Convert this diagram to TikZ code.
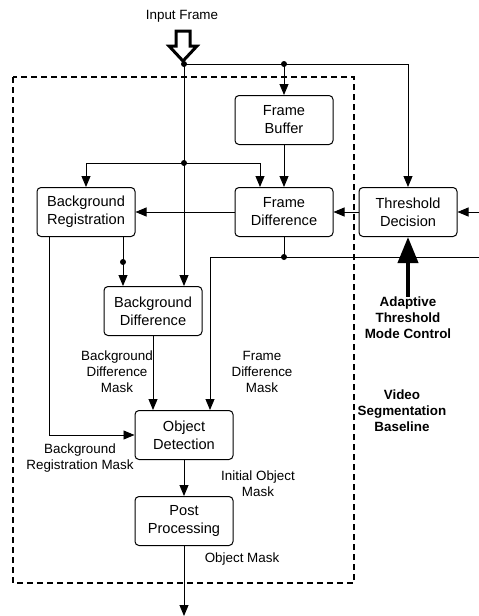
\documentclass[tikz,border=0pt]{standalone}
\usepackage{fontspec}
\setmainfont{Liberation Sans}
\usetikzlibrary{arrows.meta}
\begin{document}
\begin{tikzpicture}[x=1pt,y=-1pt,
 blk/.style={draw, rounded corners=4pt, minimum width=98pt, minimum height=49pt, align=center, font=\fontsize{14.6}{18}\selectfont, inner sep=0pt, line width=1pt},
 lbl/.style={align=center, font=\fontsize{13.4}{16}\selectfont, inner sep=0pt},
 blbl/.style={align=center, font=\fontsize{13.4}{16}\selectfont\bfseries, inner sep=0pt},
 conn/.style={line width=0.9pt, -{Triangle[length=11pt,width=9pt]}},
 wire/.style={line width=0.9pt},
 dot/.style={circle, fill, inner sep=0pt, minimum size=6pt}
]
\useasboundingbox (0,0) rectangle (479,616);

% dashed enclosure
\draw[line width=2pt, dash pattern=on 6pt off 4pt] (13,77) rectangle (354,583);

% blocks
\node[blk] (fb) at (284,120) {Frame\\Buffer};
\node[blk] (br) at (86,212) {Background\\Registration};
\node[blk] (fd) at (284,212) {Frame\\Difference};
\node[blk] (td) at (408,212) {Threshold\\Decision};
\node[blk] (bd) at (153,311) {Background\\Difference};
\node[blk] (od) at (184,435) {Object\\Detection};
\node[blk] (pp) at (184,521) {Post\\Processing};

% labels
\node[lbl] (if) at (182,16) {Input Frame};
\node[lbl] (bdm) at (117,372) {Background\\Difference\\Mask};
\node[lbl] (fdm) at (262,372) {Frame\\Difference\\Mask};
\node[blbl] (atmc) at (408,318) {Adaptive\\Threshold\\Mode Control};
\node[blbl] (vsb) at (402,411) {Video\\Segmentation\\Baseline};
\node[lbl] (brm) at (80,458) {Background\\Registration Mask};
\node[lbl] (iom) at (258,484) {Initial Object\\Mask};
\node[lbl] (om) at (242,559) {Object Mask};

% junctions
\coordinate (in) at (184,64);
\coordinate (j1) at (284,64);
\coordinate (j2) at (184,163);
\coordinate (j3) at (284,257);
\coordinate (j4) at (123,262);
\coordinate (j5) at (210,257);
\coordinate (rin) at (479,212);
\coordinate (rout) at (479,257);
\coordinate (out) at (184,616);

% hollow input arrow
\draw[line width=3pt, fill=white, line join=miter]
  (176,31) -- (190,31) -- (190,46) -- (197,46) -- (183,61) -- (169,46) -- (176,46) -- cycle;

% connectors
\draw[conn] (in) -| (td.north);
\draw[conn] (j1) -- (fb.north);
\draw[conn] (in) -- (in |- bd.north);
\draw[conn] (j2) -| (br.north);
\draw[conn] (j2) -| ([xshift=-24pt]fd.north);
\draw[conn] (fb) -- (fd);
\draw[conn] (fd) -- (br);
\draw[conn] (td) -- (fd);
\draw[conn] (rin) -- (td.east);
\draw[wire] (fd.south) -- (j3);
\draw[conn] (rout) -- (j5) -- (j5 |- od.north);
\draw[conn] (br.south -| j4) -- (j4 |- bd.north);
\draw[conn] ([xshift=-37pt]br.south) |- (od.west);
\draw[conn] (bd.south) -- (bd.south |- od.north);
\draw[conn] (od) -- (pp);
\draw[conn] (pp) -- (out);
\draw[line width=4pt, -{Triangle[length=26pt,width=20pt]}] (atmc.north) -- (td.south);

% dots
\node[dot] (d1) at (in) {};
\node[dot] (d2) at (j1) {};
\node[dot] (d3) at (j2) {};
\node[dot] (d4) at (j3) {};
\node[dot] (d5) at (j4) {};
\end{tikzpicture}
\end{document}
